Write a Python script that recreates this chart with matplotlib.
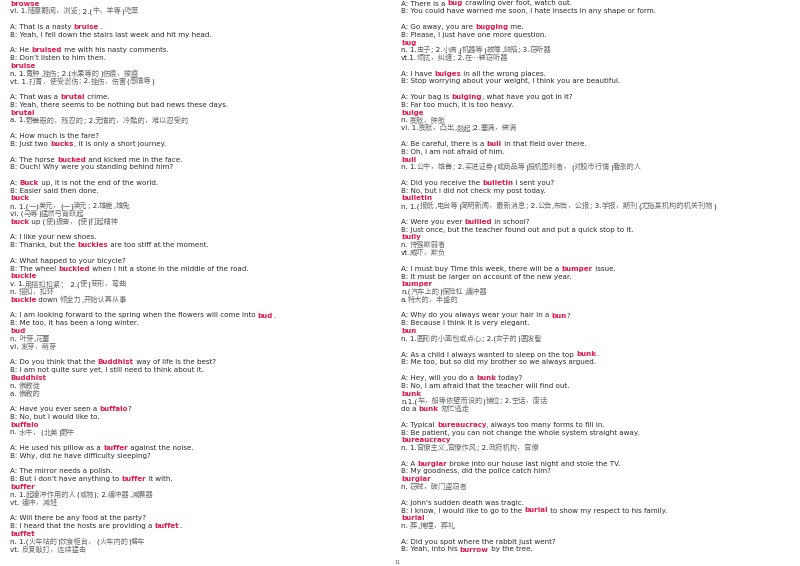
import re
import matplotlib
matplotlib.use("Agg")
import matplotlib.pyplot as plt

# page text, [word] = red bold head word, '' = blank line
left_lines = [
    "[browse]",
    "vi. 1.随意翻阅，浏览; 2.(牛，羊等)吃草",
    "",
    "A: That is a nasty [bruise].",
    "B: Yeah, I fell down the stairs last week and hit my head.",
    "",
    "A: He [bruised] me with his nasty comments.",
    "B: Don’t listen to him then.",
    "[bruise]",
    "n. 1.青肿,挫伤; 2.(水果等的)伤痕，擦痕",
    "vt. 1.打青，使受淤伤; 2.挫伤，伤害(感情等)",
    "",
    "A: That was a [brutal] crime.",
    "B: Yeah, there seems to be nothing but bad news these days.",
    "[brutal]",
    "a. 1.野兽般的，残忍的; 2.无情的，冷酷的，难以忍受的",
    "",
    "A: How much is the fare?",
    "B: Just two [bucks], it is only a short journey.",
    "",
    "A: The horse [bucked] and kicked me in the face.",
    "B: Ouch! Why were you standing behind him?",
    "",
    "A: [Buck] up, it is not the end of the world.",
    "B: Easier said then done.",
    "[buck]",
    "n. 1.(一)美元，(一)澳元; 2.雄鹿,雄兔",
    "vi. (马等)猛然弓背跃起",
    "[buck] up (使)振奋，(使)打起精神",
    "",
    "A: I like your new shoes.",
    "B: Thanks, but the [buckles] are too stiff at the moment.",
    "",
    "A: What happed to your bicycle?",
    "B: The wheel [buckled] when I hit a stone in the middle of the road.",
    "[buckle]",
    "v. 1.用搭扣扣紧； 2.(使)变形，弯曲",
    "n. 搭扣，扣环",
    "[buckle] down 倾全力,开始认真从事",
    "",
    "A: I am looking forward to the spring when the flowers will come into [bud].",
    "B: Me too, it has been a long winter.",
    "[bud]",
    "n. 叶芽,花蕾",
    "vi. 发芽，萌芽",
    "",
    "A: Do you think that the [Buddhist] way of life is the best?",
    "B: I am not quite sure yet, I still need to think about it.",
    "[Buddhist]",
    "n. 佛教徒",
    "a. 佛教的",
    "",
    "A: Have you ever seen a [buffalo]?",
    "B: No, but I would like to.",
    "[buffalo]",
    "n. 水牛，(北美)野牛",
    "",
    "A: He used his pillow as a [buffer] against the noise.",
    "B: Why, did he have difficulty sleeping?",
    "",
    "A: The mirror needs a polish.",
    "B: But I don’t have anything to [buffer] it with.",
    "[buffer]",
    "n. 1.起缓冲作用的人(或物); 2.缓冲器,减震器",
    "vt. 缓冲，减轻",
    "",
    "A: Will there be any food at the party?",
    "B: I heard that the hosts are providing a [buffet].",
    "[buffet]",
    "n. 1.(火车站的)饮食柜台，(火车内的)餐车",
    "vt. 反复敲打，连续猛击",
]

right_lines = [
    "A: There is a [bug] crawling over foot, watch out.",
    "B: You could have warned me soon, I hate insects in any shape or form.",
    "",
    "A: Go away, you are [bugging] me.",
    "B: Please, I just have one more question.",
    "[bug]",
    "n. 1.虫子; 2.小病,(机器等)故障,缺陷; 3.窃听器",
    "vt.1.烦扰，纠缠; 2.在…装窃听器",
    "",
    "A: I have [bulges] in all the wrong places.",
    "B: Stop worrying about your weight, I think you are beautiful.",
    "",
    "A: Your bag is [bulging], what have you got in it?",
    "B: Far too much, it is too heavy.",
    "[bulge]",
    "n. 膨胀，肿胀",
    "vi. 1.膨胀，凸出,鼓起;2.塞满，装满",
    "",
    "A: Be careful, there is a [bull] in that field over there.",
    "B: Oh, I am not afraid of him.",
    "[bull]",
    "n. 1.公牛，雄兽; 2.买进证券(或商品等)投机图利者，(对股市行情)看涨的人",
    "",
    "A: Did you receive the [bulletin] I sent you?",
    "B: No, but I did not check my post today.",
    "[bulletin]",
    "n. 1.(报纸,电台等)简明新闻，最新消息; 2.公告,布告，公报; 3.学报，期刊(尤指某机构的机关刊物)",
    "",
    "A: Were you ever [bullied] in school?",
    "B: Just once, but the teacher found out and put a quick stop to it.",
    "[bully]",
    "n. 恃强欺弱者",
    "vt.威吓，欺负",
    "",
    "A: I must buy Time this week, there will be a [bumper] issue.",
    "B: It must be larger on account of the new year.",
    "[bumper]",
    "n.(汽车上的)保险杠,缓冲器",
    "a.特大的，丰盛的",
    "",
    "A: Why do you always wear your hair in a [bun]?",
    "B: Because I think it is very elegant.",
    "[bun]",
    "n. 1.圆形的小面包或点心; 2.(女子的)圆发髻",
    "",
    "A: As a child I always wanted to sleep on the top [bunk].",
    "B: Me too, but so did my brother so we always argued.",
    "",
    "A: Hey, will you do a [bunk] today?",
    "B: No, I am afraid that the teacher will find out.",
    "[bunk]",
    "n.1.(车，船等依壁而设的)铺位; 2.空话，废话",
    "do a [bunk] 匆忙逃走",
    "",
    "A: Typical [bureaucracy], always too many forms to fill in.",
    "B: Be patient, you can not change the whole system straight away.",
    "[bureaucracy]",
    "n. 1.官僚主义,官僚作风; 2.政府机构，官僚",
    "",
    "A: A [burglar] broke into our house last night and stole the TV.",
    "B: My goodness, did the police catch him?",
    "[burglar]",
    "n. 窃贼，破门盗窃者",
    "",
    "A: John’s sudden death was tragic.",
    "B: I know, I would like to go to the [burial] to show my respect to his family.",
    "[burial]",
    "n. 葬,掩埋，葬礼",
    "",
    "A: Did you spot where the rabbit just went?",
    "B: Yeah, into his [burrow] by the tree.",
]

page_number = "11"

LATIN = "DejaVu Sans"
CJK = "Noto Sans CJK SC"
TEXT_COLOR = "#2a2a2a"
CJK_COLOR = "#6a6a6a"
HEAD_COLOR = "#e8174a"
FS = 5.1


def is_cjk(ch):
    return ord(ch) >= 0x2E80 or ch == "…"


def split_runs(line):
    # yields (text, kind) with kind in head / cjk / plain
    for part in re.split(r"(\[[^\]]+\])", line):
        if not part:
            continue
        if part.startswith("["):
            yield part[1:-1], "head"
            continue
        buf, cur = "", None
        for ch in part:
            k = "cjk" if is_cjk(ch) else "plain"
            if cur is not None and k != cur:
                yield buf, cur
                buf = ""
            buf += ch
            cur = k
        if buf:
            yield buf, cur


fig = plt.figure(figsize=(8, 5.66), dpi=100)
ax = fig.add_axes([0, 0, 1, 1])
ax.set_xlim(0, 800)
ax.set_ylim(566, 0)
ax.axis("off")
renderer = fig.canvas.get_renderer()


def width_of(s, **kw):
    # width including spaces: measure with markers on both sides
    t1 = ax.text(0, 0, "x" + s + "x", **kw)
    t2 = ax.text(0, 0, "xx", **kw)
    w = t1.get_window_extent(renderer).width - t2.get_window_extent(renderer).width
    t1.remove()
    t2.remove()
    return w


def draw_column(lines, x0, y0, pitch):
    for i, line in enumerate(lines):
        if not line:
            continue
        y = y0 + i * pitch
        x = x0
        for s, kind in split_runs(line):
            kw = dict(fontsize=FS, va="center", ha="left", family=LATIN)
            if kind == "head":
                kw.update(color=HEAD_COLOR, fontweight="bold")
            elif kind == "cjk":
                kw.update(color=CJK_COLOR, family=CJK, fontsize=FS * 1.02)
            else:
                kw.update(color=TEXT_COLOR)
            ax.text(x, y, s, **kw)
            x += width_of(s, **kw)


pitch = (549 - 3) / 70
draw_column(left_lines, 10, 3.5, pitch)
draw_column(right_lines, 401, 3.5, pitch)
ax.text(398, 562, page_number, family=LATIN, fontsize=3.5, color="#555555",
        ha="center", va="center")

fig.savefig("out.png", dpi=100)
